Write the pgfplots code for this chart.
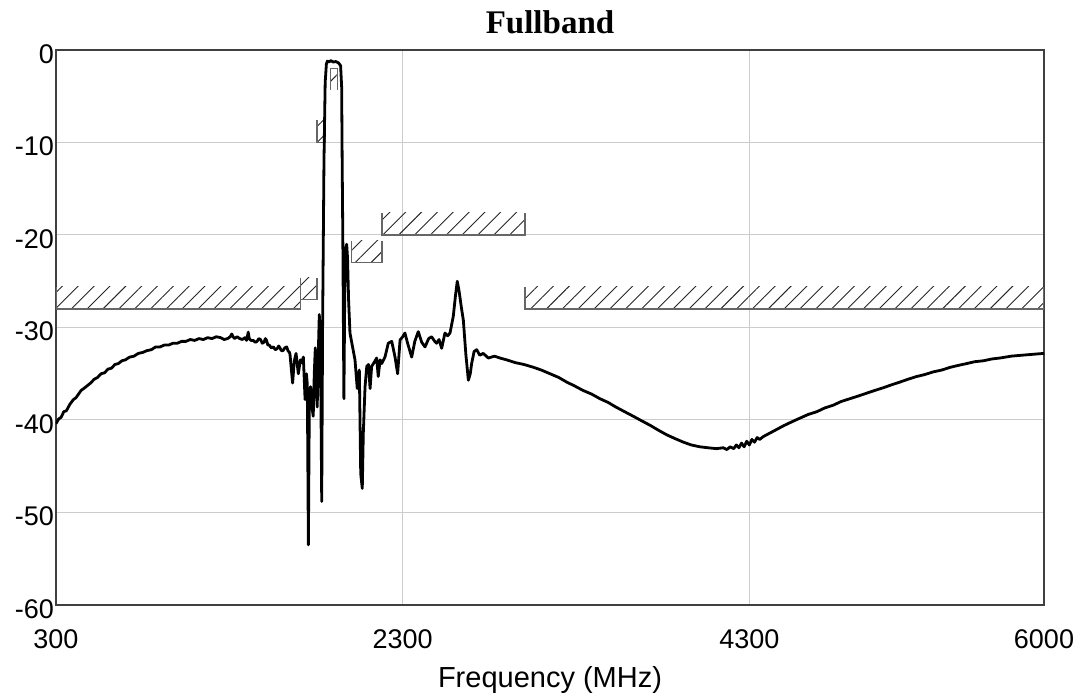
\documentclass[border=0pt]{standalone}
\usepackage{pgfplots}
\pgfplotsset{compat=1.18}
\usetikzlibrary{patterns.meta}
\usepackage{fontspec}
\setmainfont{Liberation Sans}
\newfontfamily\titlefont{Liberation Serif}

\definecolor{gridgray}{HTML}{CCCCCC}
\definecolor{maskgray}{HTML}{666666}

% hatched limit segment: x1, x2, line level, hatch top/bottom
\newcommand{\masksegment}[4]{%
  \addplot[draw=none, pattern={Lines[angle=45,distance=5.6pt,line width=0.45pt]}, pattern color=black!85]
    coordinates {(#1,#3)(#2,#3)(#2,#4)(#1,#4)};
  \addplot[maskgray, line width=0.7pt]
    coordinates {(#1,#4)(#1,#3)(#2,#3)(#2,#4)};
}

\begin{document}
\begin{tikzpicture}
\begin{axis}[
    scale only axis,
    width=494pt, height=277.5pt,
    xmin=300, xmax=6000,
    ymin=-60, ymax=0,
    xtick={300,2300,4300,6000},
    xticklabels={300,2300,4300,6000},
    ytick={-60,-50,-40,-30,-20,-10,0},
    yticklabels={-60,-50,-40,-30,-20,-10,0},
    major tick length=0pt,
    grid=major,
    grid style={gridgray, line width=0.5pt},
    axis line style={black!75, line width=0.6pt},
    ticklabel style={font=\fontsize{13.5}{16}\selectfont},
    xticklabel style={yshift=-9pt},
    yticklabel style={xshift=2.5pt, yshift=-2pt},
    xlabel={Frequency (MHz)},
    xlabel style={font=\fontsize{14.5}{17}\selectfont, yshift=-2pt},
    title={\titlefont\bfseries Fullband},
    title style={font=\fontsize{16.5}{19}\selectfont, at={(0.5,1)}, anchor=base, yshift=2pt},
    clip=true,
]
% limit mask
\masksegment{300}{1710}{-28}{-25.6}
\masksegment{1710}{1805}{-27}{-24.6}
\masksegment{1805}{1855}{-10}{-7.6}
\masksegment{1885}{1925}{-2}{-4.3}
\masksegment{2005}{2180}{-23}{-20.6}
\masksegment{2180}{3005}{-20}{-17.6}
\masksegment{3005}{6000}{-28}{-25.6}

% measured response
\addplot[black, line width=1.4pt, line join=round] table {
x y
300 -40.4
315 -39.9
330 -39.7
345 -39.1
360 -39.0
380 -38.3
400 -37.8
415 -37.6
430 -37.2
445 -36.8
460 -36.6
480 -36.3
500 -36.0
520 -35.6
540 -35.4
560 -35.0
580 -34.9
600 -34.5
620 -34.4
640 -34.0
660 -33.9
680 -33.6
700 -33.5
725 -33.2
750 -33.1
775 -32.8
800 -32.7
825 -32.5
850 -32.4
875 -32.1
900 -32.1
925 -31.9
950 -31.9
975 -31.7
1000 -31.7
1025 -31.5
1050 -31.5
1075 -31.3
1100 -31.4
1125 -31.2
1150 -31.3
1175 -31.1
1200 -31.2
1225 -31.0
1250 -31.1
1270 -31.3
1290 -31.2
1305 -31.0
1314 -30.7
1322 -31.0
1330 -31.2
1345 -31.0
1360 -31.2
1375 -31.3
1390 -31.1
1400 -31.4
1409 -30.5
1415 -31.2
1425 -31.4
1438 -31.4
1450 -31.6
1460 -31.5
1470 -31.2
1480 -31.3
1490 -31.7
1500 -31.6
1508 -31.2
1515 -31.4
1522 -31.9
1530 -31.9
1542 -32.2
1554 -32.1
1565 -32.4
1575 -32.3
1585 -32.0
1592 -32.2
1600 -32.5
1610 -32.5
1620 -32.2
1631 -32.1
1640 -32.6
1645 -32.6
1650 -32.9
1665 -36.0
1675 -33.6
1685 -32.8
1692 -34.0
1698 -35.0
1710 -33.5
1718 -33.8
1727 -33.2
1737 -37.8
1745 -35.0
1750 -36.2
1756 -53.5
1762 -37.0
1769 -36.4
1776 -38.5
1784 -39.6
1790 -35.0
1796 -32.2
1802 -36.0
1807 -38.6
1813 -33.0
1819 -28.6
1826 -32.0
1833 -48.8
1838 -30.0
1846 -12.0
1853 -3.5
1860 -1.5
1866 -1.2
1875 -1.3
1885 -1.15
1900 -1.3
1915 -1.25
1930 -1.4
1942 -1.7
1948 -4.0
1951 -12.0
1955 -21.0
1961 -37.7
1966 -26.0
1971 -21.6
1977 -21.0
1982 -22.5
1988 -27.0
1996 -30.6
2010 -32.0
2025 -33.5
2038 -36.6
2050 -34.6
2058 -45.8
2067 -47.4
2073 -41.4
2083 -36.4
2093 -34.2
2103 -34.0
2112 -36.6
2121 -34.2
2135 -33.8
2150 -33.3
2159 -35.3
2170 -33.5
2179 -33.9
2198 -33.2
2217 -31.7
2237 -31.5
2256 -33.2
2271 -35.0
2285 -31.35
2300 -31.0
2313 -30.6
2330 -31.8
2352 -33.2
2370 -31.5
2390 -30.45
2410 -31.6
2429 -32.1
2450 -31.2
2467 -31.0
2485 -31.5
2496 -31.7
2510 -31.3
2525 -32.25
2544 -30.6
2560 -30.9
2573 -30.6
2592 -28.8
2605 -26.5
2615 -25.0
2625 -26.0
2640 -28.0
2650 -29.2
2665 -33.0
2679 -35.7
2690 -35.0
2698 -33.9
2712 -32.6
2727 -32.4
2745 -33.0
2765 -32.8
2794 -33.3
2830 -33.1
2861 -33.3
2900 -33.5
2950 -33.8
3000 -34.0
3054 -34.3
3100 -34.6
3150 -35.0
3200 -35.4
3246 -35.9
3290 -36.3
3340 -36.8
3390 -37.2
3438 -37.7
3485 -38.1
3530 -38.6
3580 -39.1
3631 -39.6
3680 -40.1
3730 -40.6
3775 -41.1
3823 -41.6
3870 -42.0
3920 -42.4
3965 -42.7
4015 -42.9
4060 -43.0
4111 -43.1
4150 -43.0
4170 -43.2
4190 -42.9
4210 -43.1
4225 -42.7
4240 -43.0
4255 -42.5
4270 -42.9
4285 -42.3
4300 -42.7
4315 -42.1
4330 -42.4
4345 -41.9
4360 -42.1
4380 -41.8
4400 -41.6
4450 -41.1
4500 -40.6
4545 -40.2
4592 -39.8
4640 -39.4
4690 -39.1
4735 -38.7
4784 -38.4
4830 -38.0
4880 -37.7
4930 -37.4
4977 -37.1
5025 -36.8
5075 -36.5
5120 -36.2
5169 -35.9
5215 -35.6
5265 -35.3
5310 -35.1
5361 -34.8
5410 -34.6
5460 -34.3
5505 -34.1
5554 -33.9
5600 -33.7
5650 -33.6
5700 -33.4
5746 -33.3
5810 -33.1
5871 -33.0
5935 -32.9
6000 -32.8
};
\coordinate (SW) at (rel axis cs:0,0);
\coordinate (NE) at (rel axis cs:1,1);
\end{axis}
\pgfresetboundingbox
\path ([shift={(-28pt,-46pt)}]SW) rectangle ([shift={(20.5pt,25pt)}]NE);
\end{tikzpicture}
\end{document}
